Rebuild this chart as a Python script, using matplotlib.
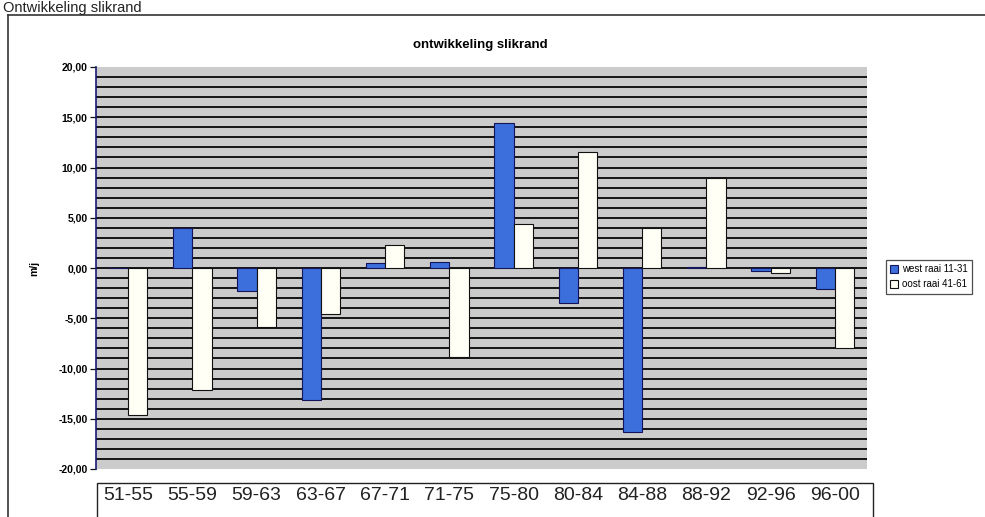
import numpy as np
import matplotlib
matplotlib.use("Agg")
import matplotlib.pyplot as plt
from matplotlib.patches import Rectangle
from matplotlib.ticker import FuncFormatter

plt.rcParams["font.family"] = ["Liberation Sans", "DejaVu Sans"]

# ---- data (m/j) ----
periods = ["51-55", "55-59", "59-63", "63-67", "67-71", "71-75",
           "75-80", "80-84", "84-88", "88-92", "92-96", "96-00"]
west = [0.0, 4.0, -2.25, -13.1, 0.5, 0.6, 14.4, -3.5, -16.3, 0.1, -0.25, -2.05]
oost = [-14.6, -12.1, -5.9, -4.55, 2.3, -8.85, 4.4, 11.5, 4.0, 9.0, -0.5, -8.0]
west_label = "west raai 11-31"
oost_label = "oost raai 41-61"

W, H = 985, 517
fig = plt.figure(figsize=(W / 100, H / 100), dpi=100)
fig.patch.set_facecolor("white")

# page heading + outer frame of the scanned page
fig.text(3 / W, 1 - 1 / H, "Ontwikkeling slikrand", fontsize=10.5, va="top",
         ha="left", color="#222222")
fig.add_artist(plt.Line2D([8 / W, 8 / W], [0, 1 - 15 / H], transform=fig.transFigure,
                          color="#333333", lw=1.2))
fig.add_artist(plt.Line2D([8 / W, 1], [1 - 15 / H, 1 - 15 / H], transform=fig.transFigure,
                          color="#333333", lw=1.2))

ax = fig.add_axes([96 / W, 1 - 469 / H, 771 / W, 402 / H])
ax.set_facecolor("#cbcbcb")
x = np.arange(len(periods))
bw = 0.3
ax.bar(x - bw / 2, west, bw, color="#3c6fdc", edgecolor="#14145a", lw=0.8,
       label=west_label, zorder=3)
ax.bar(x + bw / 2, oost, bw, color="#fffff6", edgecolor="#111111", lw=0.8,
       label=oost_label, zorder=3)

ax.set_xlim(-0.5, len(periods) - 0.5)
ax.set_ylim(-20, 20)
for v in range(-19, 20):
    ax.axhline(v, color="#151515", lw=1.4, zorder=1)

ax.set_yticks(np.arange(-20, 21, 5))
ax.yaxis.set_major_formatter(FuncFormatter(lambda v, _: f"{v:.2f}".replace(".", ",")))
ax.tick_params(axis="y", length=4, width=0.9, color="#111111", labelsize=7.5, pad=2)
for t in ax.get_yticklabels():
    t.set_fontweight("bold")
ax.set_xticks(x)
ax.set_xticklabels(periods, fontsize=14, color="#222222")
ax.tick_params(axis="x", length=0, pad=13)

for s in ["top", "right", "bottom"]:
    ax.spines[s].set_visible(False)
ax.spines["left"].set_color("#1a1a6e")
ax.spines["left"].set_linewidth(1.2)

ax.set_ylabel("m/j", fontsize=7.5, fontweight="bold", labelpad=14)
fig.text(480 / W, 1 - 45 / H, "ontwikkeling slikrand", fontsize=9.5, fontweight="bold",
         ha="center", va="center")

# box round the period labels
fig.add_artist(Rectangle((97 / W, -0.05), 776 / W, (H - 483) / H + 0.05,
                         transform=fig.transFigure, fill=False, edgecolor="#222222", lw=1.0))

leg = fig.legend(loc="upper left", bbox_to_anchor=(886 / W, 1 - 260 / H), fontsize=7,
                 frameon=True, fancybox=False, edgecolor="#222222", handlelength=0.8,
                 handleheight=0.8, handletextpad=0.4, borderpad=0.45, labelspacing=0.5,
                 borderaxespad=0)
leg.get_frame().set_linewidth(0.9)

fig.savefig("out.png", dpi=100)
